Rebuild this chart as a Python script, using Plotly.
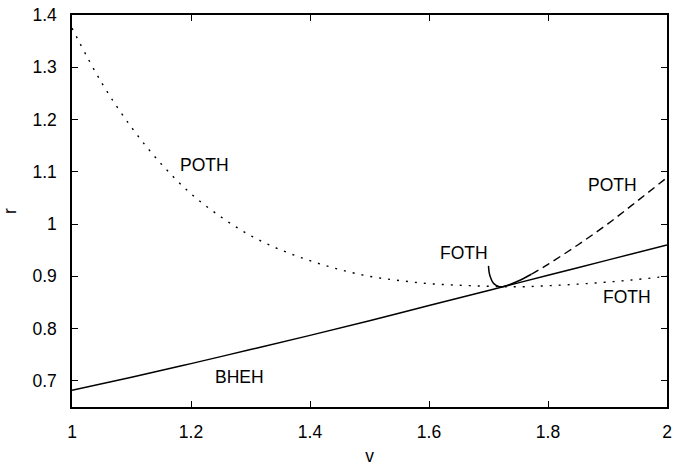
import plotly.graph_objects as go

# BHEH branch (solid)
bheh_v = [1.0, 1.1, 1.2, 1.3, 1.4, 1.5, 1.6, 1.7, 1.8, 1.9, 2.0]
bheh_r = [0.682, 0.707, 0.733, 0.760, 0.787, 0.815, 0.844, 0.873, 0.902, 0.931, 0.960]

# POTH (left) / FOTH (right) dotted branch
dot_v = [1.0, 1.05, 1.1, 1.15, 1.2, 1.25, 1.3, 1.35, 1.4, 1.45, 1.5, 1.55,
         1.6, 1.65, 1.7, 1.75, 1.8, 1.85, 1.9, 1.95, 2.0]
dot_r = [1.375, 1.27, 1.185, 1.115, 1.058, 1.014, 0.978, 0.951, 0.930, 0.913, 0.900, 0.892,
         0.886, 0.883, 0.881, 0.880, 0.882, 0.885, 0.889, 0.894, 0.900]

# POTH dashed branch
dash_v = [1.772, 1.8, 1.85, 1.9, 1.95, 2.0]
dash_r = [0.904, 0.923, 0.960, 1.000, 1.044, 1.089]

# FOTH solid hook near the crossing point
hook_v = [1.700, 1.701, 1.703, 1.706, 1.710, 1.716, 1.722, 1.735, 1.750, 1.772]
hook_r = [0.920, 0.908, 0.899, 0.891, 0.885, 0.881, 0.880, 0.884, 0.891, 0.904]

labels = ["POTH", "FOTH", "POTH", "FOTH", "BHEH"]
label_v = [1.222, 1.658, 1.908, 1.932, 1.282]
label_r = [1.113, 0.944, 1.074, 0.860, 0.708]

txt = dict(family="Liberation Sans, Arial, sans-serif", size=17.5, color="black")

fig = go.Figure()
fig.add_trace(go.Scatter(x=dot_v, y=dot_r, mode="lines",
                         line=dict(color="black", width=1.4, dash="2px,7px", shape="spline")))
fig.add_trace(go.Scatter(x=bheh_v, y=bheh_r, mode="lines",
                         line=dict(color="black", width=1.5, shape="spline")))
fig.add_trace(go.Scatter(x=dash_v, y=dash_r, mode="lines",
                         line=dict(color="black", width=1.4, dash="8px,5px", shape="spline")))
fig.add_trace(go.Scatter(x=hook_v, y=hook_r, mode="lines",
                         line=dict(color="black", width=1.5, shape="spline")))

for t, xv, yv in zip(labels, label_v, label_r):
    fig.add_annotation(x=xv, y=yv, text=t, showarrow=False, font=txt)

axis_common = dict(showline=True, linecolor="black", linewidth=1.5, mirror="ticks", ticks="inside",
                   ticklen=6, tickwidth=1, tickcolor="black", showgrid=False, zeroline=False,
                   tickfont=txt, ticklabeloverflow="allow")
fig.update_xaxes(range=[1, 2], tickvals=[1, 1.2, 1.4, 1.6, 1.8, 2],
                 ticktext=["1", "1.2", "1.4", "1.6", "1.8", "2"], ticklabelstandoff=8,
                 title=dict(text="v", font=txt, standoff=9), **axis_common)
fig.update_yaxes(range=[0.65, 1.4], tickvals=[0.7, 0.8, 0.9, 1.0, 1.1, 1.2, 1.3, 1.4],
                 ticktext=["0.7", "0.8", "0.9", "1", "1.1", "1.2", "1.3", "1.4"], ticklabelstandoff=10,
                 title=dict(text="r", font=txt, standoff=14), **axis_common)
fig.update_layout(width=677, height=468, margin=dict(l=72, r=5, t=9, b=59),
                  paper_bgcolor="white", plot_bgcolor="white", showlegend=False,
                  font=txt)
fig.write_html("out.html")
